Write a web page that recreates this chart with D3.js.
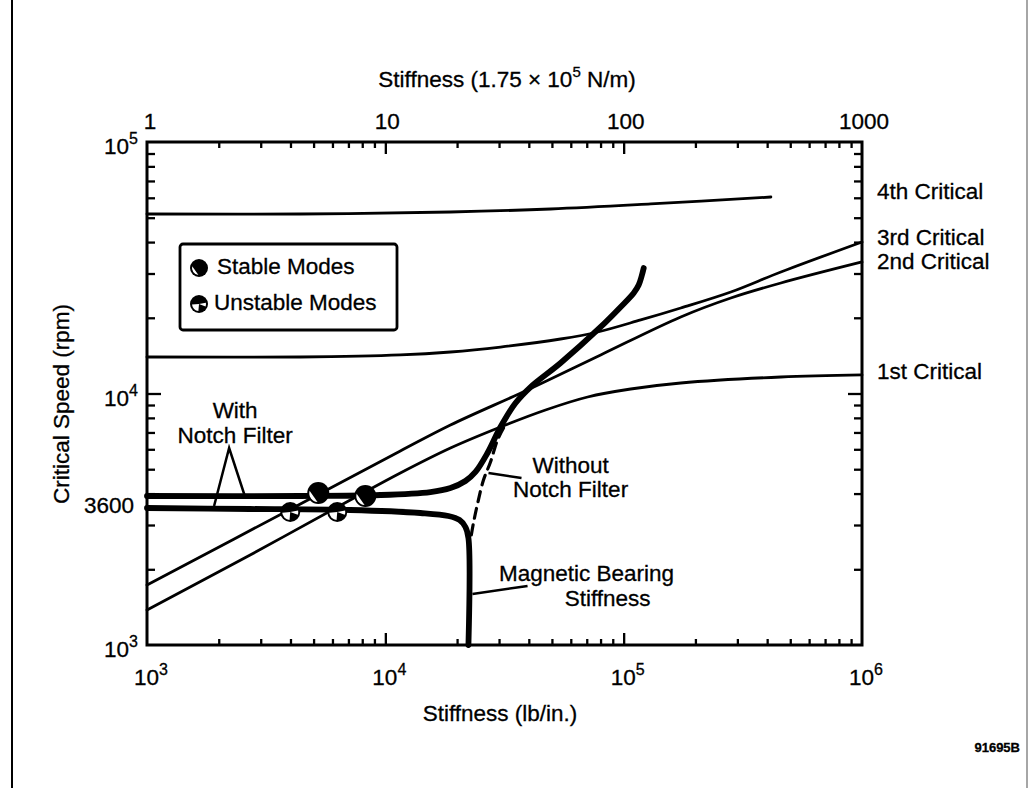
<!DOCTYPE html>
<html><head><meta charset="utf-8">
<script src="https://cdn.jsdelivr.net/npm/d3@7"></script>
<style>
body{margin:0;background:#fff}
text{font-family:"Liberation Sans",Arial,Helvetica,sans-serif;fill:#000;stroke:#000;stroke-width:0.3px}
</style>
</head><body>
<svg id="chart" width="1030" height="788"></svg>
<script>
// ---------- DATA (stiffness in lb/in, speed in rpm) ----------
const bottomTickExps = [3, 4, 5, 6];
const topTickValues = [1, 10, 100, 1000];
const topTickLabels = ["1", "10", "100", "1000"];
const leftTickExps = [5, 4, 3];
const extraYTick = 3600;

const crit4Stiffness = [1000, 4400, 18760, 49350, 129900, 414700];
const crit4Rpm       = [51730, 51730, 52690, 54150, 56700, 60430];

const crit3Stiffness = [1000, 4400, 11560, 18760, 30420, 54360, 77790, 117900, 173600, 281600, 456700, 1000000];
const crit3Rpm       = [13970, 13970, 14230, 14620, 15300, 16470, 17560, 19610, 21880, 25330, 30420, 40040];

const crit2Stiffness = [1000, 4400, 11560, 18760, 39510, 80080, 173600, 281600, 456700, 1000000];
const crit2Rpm       = [1732, 3636, 5907, 7495, 10330, 14230, 20150, 23970, 27500, 33340];

const crit1Stiffness = [1000, 2709, 7128, 11560, 18760, 30420, 47010, 70600, 107000, 173600, 456700, 1000000];
const crit1Rpm       = [1378, 2280, 3771, 4830, 6071, 7359, 8600, 9685, 10420, 11010, 11630, 11850];

const notchUpperStiffness = [1000, 4400, 9528, 15460, 18760, 21680, 23890, 26830, 30420, 35180, 40670, 54360, 80080, 97140, 110200, 115600, 119000, 121400];
const notchUpperRpm       = [3912, 3912, 3948, 4058, 4210, 4489, 4875, 5799, 7359, 9167, 10610, 13220, 18390, 22080, 25100, 27000, 29320, 31550];

const notchLowerStiffness = [1000, 2709, 7128, 14040, 18390, 20460, 21680, 22320, 22320];
const notchLowerRpm       = [3505, 3474, 3442, 3349, 3258, 3141, 2946, 2663, 1000];

const noNotchStiffness = [31320, 29550, 27620, 25810, 24360, 23430, 22760];
const noNotchRpm       = [7292, 6533, 5342, 4530, 3636, 3056, 2615];

const stableStiffness = [5231, 8243];
const stableRpm       = [4021, 3912];
const unstableStiffness = [3990, 6284];
const unstableRpm       = [3380, 3380];

const modeNames = ["4th Critical", "3rd Critical", "2nd Critical", "1st Critical"];
const modeLabelRpm = [62680, 41150, 33030, 12060];

// ---------- SETUP ----------
const svg = d3.select("#chart");
const x = d3.scaleLog().domain([1e3, 1e6]).range([147, 862]);
const xTop = d3.scaleLog().domain([1, 1000]).range([147, 862]);
const y = d3.scaleLog().domain([1e3, 1e5]).range([645, 142]);
const FS = 22.5;

// outer frame lines
svg.append("line").attr("x1", 12).attr("x2", 12).attr("y1", 0).attr("y2", 788)
  .attr("stroke", "#000").attr("stroke-width", 2);
svg.append("line").attr("x1", 1027).attr("x2", 1027).attr("y1", 0).attr("y2", 788)
  .attr("stroke", "#888").attr("stroke-width", 1.5);

// minor / major tick values
const decadesX = [1e3, 1e4, 1e5];
const minorX = decadesX.flatMap(d => d3.range(2, 10).map(m => d * m));
const majorX = [1e4, 1e5];
const minorY = [1e3, 1e4].flatMap(d => d3.range(2, 10).map(m => d * m));
const majorY = [1e4];

function axisTicks(axisFn, scale, values, size, tx, ty) {
  const g = svg.append("g").attr("transform", `translate(${tx},${ty})`)
    .call(axisFn(scale).tickValues(values).tickSize(size).tickFormat(""));
  g.select(".domain").remove();
  g.selectAll(".tick line").attr("stroke", "#000").attr("stroke-width", 2.3);
}
axisTicks(d3.axisBottom, x, minorX, -6, 0, 645);
axisTicks(d3.axisBottom, x, majorX, -12, 0, 645);
axisTicks(d3.axisTop, x, minorX, -6, 0, 142);
axisTicks(d3.axisTop, x, majorX, -12, 0, 142);
axisTicks(d3.axisLeft, y, minorY, -8, 147, 0);
axisTicks(d3.axisLeft, y, majorY, -14, 147, 0);
axisTicks(d3.axisRight, y, minorY, -8, 862, 0);
axisTicks(d3.axisRight, y, majorY, -14, 862, 0);

// plot frame
svg.append("rect").attr("x", x(1e3)).attr("y", y(1e5))
  .attr("width", x(1e6) - x(1e3)).attr("height", y(1e3) - y(1e5))
  .attr("fill", "none").attr("stroke", "#000").attr("stroke-width", 3);

// ---------- CURVES ----------
const line = d3.line().x(d => x(d[0])).y(d => y(d[1])).curve(d3.curveCatmullRom.alpha(0.5));
const zip = (a, b) => a.map((v, i) => [v, b[i]]);

function curve(k, r, w, dash) {
  svg.append("path").datum(zip(k, r)).attr("d", line)
    .attr("fill", "none").attr("stroke", "#000").attr("stroke-width", w)
    .attr("stroke-linecap", "round").attr("stroke-linejoin", "round")
    .attr("stroke-dasharray", dash || null);
}
curve(crit4Stiffness, crit4Rpm, 2.8);
curve(crit3Stiffness, crit3Rpm, 2.8);
curve(crit2Stiffness, crit2Rpm, 2.8);
curve(crit1Stiffness, crit1Rpm, 2.8);
curve(noNotchStiffness, noNotchRpm, 3.2, "10 7");
curve(notchUpperStiffness, notchUpperRpm, 5.8);
curve(notchLowerStiffness, notchLowerRpm, 5.8);

// ---------- MARKERS ----------
const pt = (deg, r) => [r * Math.cos(deg * Math.PI / 180), r * Math.sin(deg * Math.PI / 180)];
function stableMarker(g, r) {
  g.append("circle").attr("r", r).attr("fill", "#000");
  const a = pt(95, r - 2), b = pt(195, r - 2);
  g.append("path").attr("d", `M${a[0]},${a[1]} A${r - 2},${r - 2} 0 0 1 ${b[0]},${b[1]} Z`).attr("fill", "#fff");
}
function unstableMarker(g, r) {
  g.append("circle").attr("r", r).attr("fill", "#000");
  const a = pt(95, r - 2), b = pt(175, r - 2);
  g.append("path").attr("d", `M0,0 L${a[0]},${a[1]} A${r - 2},${r - 2} 0 0 1 ${b[0]},${b[1]} Z`).attr("fill", "#fff");
  const c = pt(-10, r - 2), d = pt(20, r - 2);
  g.append("path").attr("d", `M0,0 L${c[0]},${c[1]} A${r - 2},${r - 2} 0 0 1 ${d[0]},${d[1]} Z`).attr("fill", "#fff");
}
stableStiffness.forEach((k, i) => {
  stableMarker(svg.append("g").attr("transform", `translate(${x(k)},${y(stableRpm[i])})`), 11);
});
unstableStiffness.forEach((k, i) => {
  unstableMarker(svg.append("g").attr("transform", `translate(${x(k)},${y(unstableRpm[i])})`), 10);
});

// ---------- TICK LABELS ----------
function powLabel(xp, yp, exp, anchor) {
  const t = svg.append("text").attr("x", xp).attr("y", yp).attr("text-anchor", anchor)
    .attr("font-size", FS);
  t.append("tspan").text("10");
  t.append("tspan").attr("dy", -10).attr("font-size", 16).text(exp);
  return t;
}
bottomTickExps.forEach(e => powLabel(x(Math.pow(10, e)) + 4, 685, e, "middle"));
leftTickExps.forEach(e => powLabel(138, y(Math.pow(10, e)) + 12, e, "end"));
svg.append("text").attr("x", 134).attr("y", y(extraYTick) + 8).attr("text-anchor", "end")
  .attr("font-size", FS).text(String(extraYTick));
topTickValues.forEach((v, i) => {
  svg.append("text").attr("x", xTop(v) + (i === 0 ? 3 : 2)).attr("y", 129).attr("text-anchor", "middle")
    .attr("font-size", FS).text(topTickLabels[i]);
});

// axis titles
const tt = svg.append("text").attr("x", 507).attr("y", 87).attr("text-anchor", "middle").attr("font-size", FS);
tt.append("tspan").text("Stiffness (1.75 \u00d7 10");
tt.append("tspan").attr("dy", -10).attr("font-size", 15).text("5");
tt.append("tspan").attr("dy", 10).text(" N/m)");
svg.append("text").attr("x", 500).attr("y", 721).attr("text-anchor", "middle").attr("font-size", FS)
  .text("Stiffness (lb/in.)");
svg.append("text").attr("transform", "translate(69,404) rotate(-90)").attr("text-anchor", "middle")
  .attr("font-size", FS).text("Critical Speed (rpm)");

// mode labels on right
modeNames.forEach((n, i) => {
  svg.append("text").attr("x", 877).attr("y", y(modeLabelRpm[i])).attr("dominant-baseline", "middle")
    .attr("font-size", FS).text(n);
});

// ---------- ANNOTATIONS ----------
function label(k, r, txt) {
  svg.append("text").attr("x", x(k)).attr("y", y(r)).attr("text-anchor", "middle")
    .attr("dominant-baseline", "middle").attr("font-size", FS).text(txt);
}
function leader(pts) {
  svg.append("path").attr("d", d3.line()(pts.map(p => [x(p[0]), y(p[1])])))
    .attr("fill", "none").attr("stroke", "#000").attr("stroke-width", 2.5);
}
label(2343, 8440, "With");
label(2343, 6714, "Notch Filter");
leader([[1912, 3570], [2211, 6071], [2581, 3877]]);

label(59900, 5104, "Without");
label(59900, 4096, "Notch Filter");
leader([[27090, 4830], [37270, 4613]]);

label(69900, 1898, "Magnetic Bearing");
label(85660, 1510, "Stiffness");
leader([[23200, 1595], [39510, 1716]]);

// ---------- LEGEND ----------
const lg = svg.append("g").attr("transform", "translate(180,244)");
lg.append("rect").attr("width", 217).attr("height", 86).attr("rx", 3)
  .attr("fill", "#fff").attr("stroke", "#000").attr("stroke-width", 2.8);
stableMarker(lg.append("g").attr("transform", "translate(19,24)"), 9);
unstableMarker(lg.append("g").attr("transform", "translate(19,60)"), 9);
lg.append("text").attr("x", 37).attr("y", 24).attr("dominant-baseline", "middle").attr("font-size", FS).text("Stable Modes");
lg.append("text").attr("x", 34).attr("y", 60).attr("dominant-baseline", "middle").attr("font-size", FS).text("Unstable Modes");

// figure id
svg.append("text").attr("x", 1020).attr("y", 752).attr("text-anchor", "end").attr("font-size", 13)
  .attr("font-weight", "bold").text("91695B");
</script>
</body></html>
